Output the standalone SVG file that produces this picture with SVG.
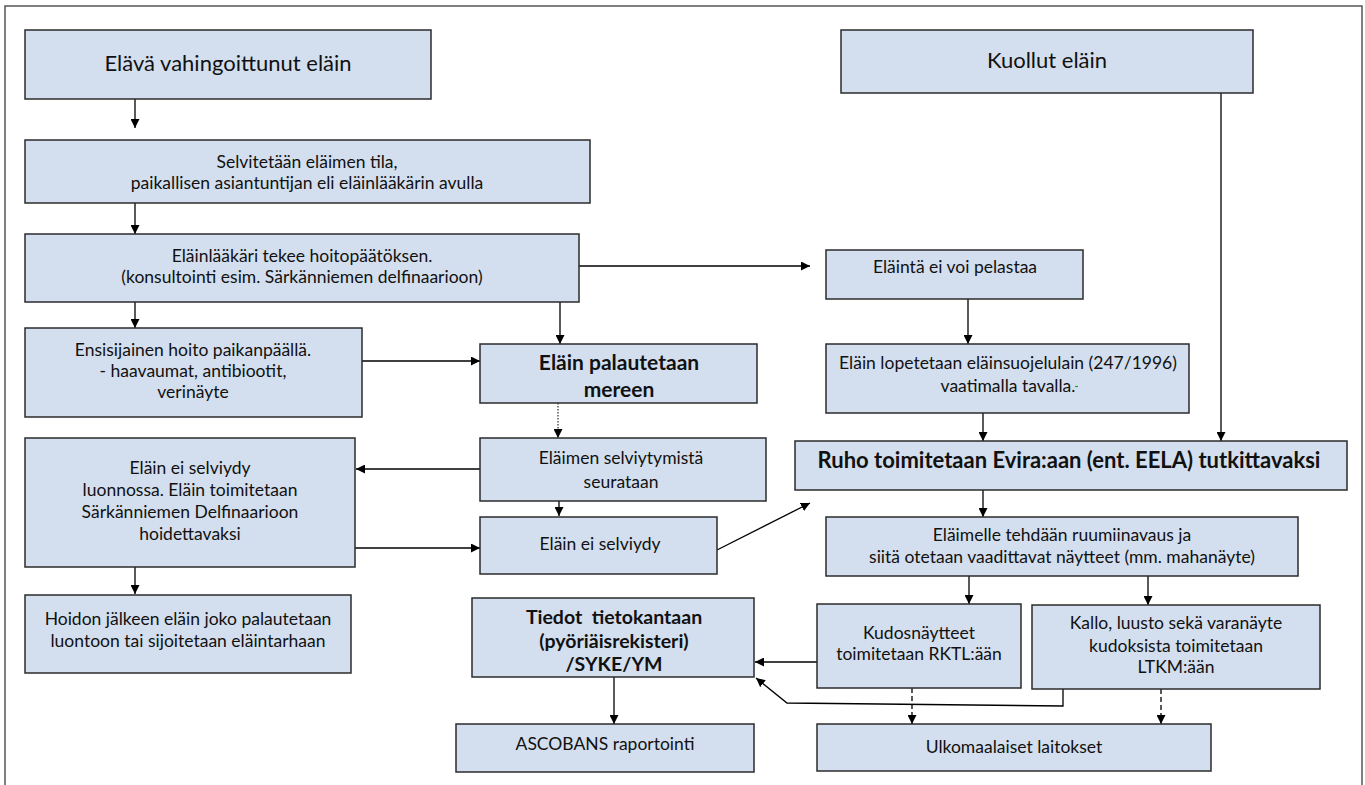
<svg xmlns="http://www.w3.org/2000/svg" width="1365" height="785" viewBox="0 0 1365 785">
<defs>
<marker id="ah" viewBox="0 0 10 10" refX="10" refY="5" markerWidth="9" markerHeight="9" markerUnits="userSpaceOnUse" orient="auto">
<path d="M0,0 L10,5 L0,10 z" fill="#000"/>
</marker>
</defs>
<style>
.b{fill:#d3dfee;stroke:#2b2b2b;stroke-width:1.5}
.t{font-family:Lato,"Open Sans",sans-serif;font-size:17.5px;fill:#111;text-anchor:middle}
.tb{font-family:Lato,"Open Sans",sans-serif;font-size:21px;font-weight:bold;fill:#111;text-anchor:middle}
.tl{font-family:Lato,"Open Sans",sans-serif;font-size:22px;fill:#111;text-anchor:middle}
.c{fill:none;stroke:#000;stroke-width:1.3;marker-end:url(#ah)}
.dot{stroke-dasharray:1.5 1.5;stroke-width:1}
.dash{stroke-dasharray:5 3}
</style>
<rect width="1365" height="785" fill="#fff"/>
<path d="M5,785 V6 H1362 V785" fill="none" stroke="#555" stroke-width="1.5"/>

<g id="connectors">
<path class="c" d="M135,99 V128"/>
<path class="c" d="M135,203 V234"/>
<path class="c" d="M135,302 V328"/>
<path class="c" d="M579,266 H810"/>
<path class="c" d="M560,302 V344"/>
<path class="c" d="M362,361 H480"/>
<path class="c dot" d="M558,403 V438"/>
<path class="c" d="M480,469 H356"/>
<path class="c" d="M559,501 V516"/>
<path class="c" d="M355,548 H480"/>
<path class="c" d="M135,567 V594"/>
<path class="c" d="M717,550 L810,503"/>
<path class="c" d="M968,299 V344"/>
<path class="c" d="M983,413 V441"/>
<path class="c" d="M1221,93 V441"/>
<path class="c" d="M983,490 V517"/>
<path class="c" d="M969,576 V604"/>
<path class="c" d="M1148,576 V605"/>
<path class="c" d="M817,662 H755"/>
<path class="c" d="M1063,689 V706 L787,703 L756,678"/>
<path class="c dash" d="M912,688 V724"/>
<path class="c dash" d="M1161,689 V724"/>
<path class="c" d="M614,677 V724"/>
</g>

<g id="n1"><rect class="b" x="25" y="30" width="406" height="69"/><text class="tl" x="228" y="71">Elävä vahingoittunut eläin</text></g>
<g id="n2"><rect class="b" x="841" y="30" width="412" height="63"/><text class="tl" x="1047" y="68">Kuollut eläin</text></g>
<g id="n3"><rect class="b" x="25" y="140" width="565" height="63"/><text class="t" x="307" y="168">Selvitetään eläimen tila,</text><text class="t" x="307" y="189">paikallisen asiantuntijan eli eläinlääkärin avulla</text></g>
<g id="n4"><rect class="b" x="25" y="234" width="554" height="68"/><text class="t" x="302" y="262">Eläinlääkäri tekee hoitopäätöksen.</text><text class="t" x="302" y="283">(konsultointi esim. Särkänniemen delfinaarioon)</text></g>
<g id="n5"><rect class="b" x="826" y="250" width="257" height="49"/><text class="t" x="955" y="273">Eläintä ei voi pelastaa</text></g>
<g id="n6"><rect class="b" x="25" y="328" width="337" height="89"/><text class="t" x="193" y="356">Ensisijainen hoito paikanpäällä.</text><text class="t" x="193" y="377">- haavaumat, antibiootit,</text><text class="t" x="193" y="398">verinäyte</text></g>
<g id="n7"><rect class="b" x="480" y="344" width="277" height="59"/><text class="tb" x="619" y="370">Eläin palautetaan</text><text class="tb" x="619" y="397">mereen</text></g>
<g id="n8"><rect class="b" x="826" y="344" width="363" height="69"/><text class="t" x="1008" y="369">Eläin lopetetaan eläinsuojelulain (247/1996)</text><text class="t" x="1008" y="392">vaatimalla tavalla.</text><line x1="1075" y1="386.5" x2="1078" y2="386.5" stroke="#2a9a3a" stroke-width="1.2"/></g>
<g id="n9"><rect class="b" x="25" y="438" width="330" height="129"/><text class="t" x="190" y="474">Eläin ei selviydy</text><text class="t" x="190" y="496">luonnossa. Eläin toimitetaan</text><text class="t" x="190" y="518">Särkänniemen Delfinaarioon</text><text class="t" x="190" y="540">hoidettavaksi</text></g>
<g id="n10"><rect class="b" x="480" y="438" width="286" height="63"/><text class="t" x="621" y="464">Eläimen selviytymistä</text><text class="t" x="621" y="488">seurataan</text></g>
<g id="n11"><rect class="b" x="795" y="441" width="552" height="49"/><text class="tb" x="1069" y="468" style="font-size:22px">Ruho toimitetaan Evira:aan (ent. EELA) tutkittavaksi</text></g>
<g id="n12"><rect class="b" x="480" y="517" width="237" height="57"/><text class="t" x="600" y="550">Eläin ei selviydy</text></g>
<g id="n13"><rect class="b" x="826" y="517" width="472" height="59"/><text class="t" x="1062" y="541">Eläimelle tehdään ruumiinavaus ja</text><text class="t" x="1062" y="563">siitä otetaan vaadittavat näytteet (mm. mahanäyte)</text></g>
<g id="n14"><rect class="b" x="25" y="595" width="326" height="78"/><text class="t" x="188" y="625">Hoidon jälkeen eläin joko palautetaan</text><text class="t" x="188" y="647">luontoon tai sijoitetaan eläintarhaan</text></g>
<g id="n15"><rect class="b" x="472" y="598" width="282" height="79"/><text class="tb" x="614" y="624" style="font-size:19.5px" xml:space="preserve">Tiedot  tietokantaan</text><text class="tb" x="614" y="648" style="font-size:19.5px">(pyöriäisrekisteri)</text><text class="tb" x="614" y="671" style="font-size:19.5px">/SYKE/YM</text></g>
<g id="n16"><rect class="b" x="817" y="604" width="204" height="84"/><text class="t" x="919" y="639">Kudosnäytteet</text><text class="t" x="919" y="660">toimitetaan RKTL:ään</text></g>
<g id="n17"><rect class="b" x="1032" y="605" width="288" height="84"/><text class="t" x="1176" y="629">Kallo, luusto sekä varanäyte</text><text class="t" x="1176" y="652">kudoksista toimitetaan</text><text class="t" x="1176" y="673">LTKM:ään</text></g>
<g id="n18"><rect class="b" x="456" y="724" width="298" height="48"/><text class="t" x="605" y="750">ASCOBANS raportointi</text></g>
<g id="n19"><rect class="b" x="817" y="724" width="394" height="47"/><text class="t" x="1014" y="753">Ulkomaalaiset laitokset</text></g>
</svg>
